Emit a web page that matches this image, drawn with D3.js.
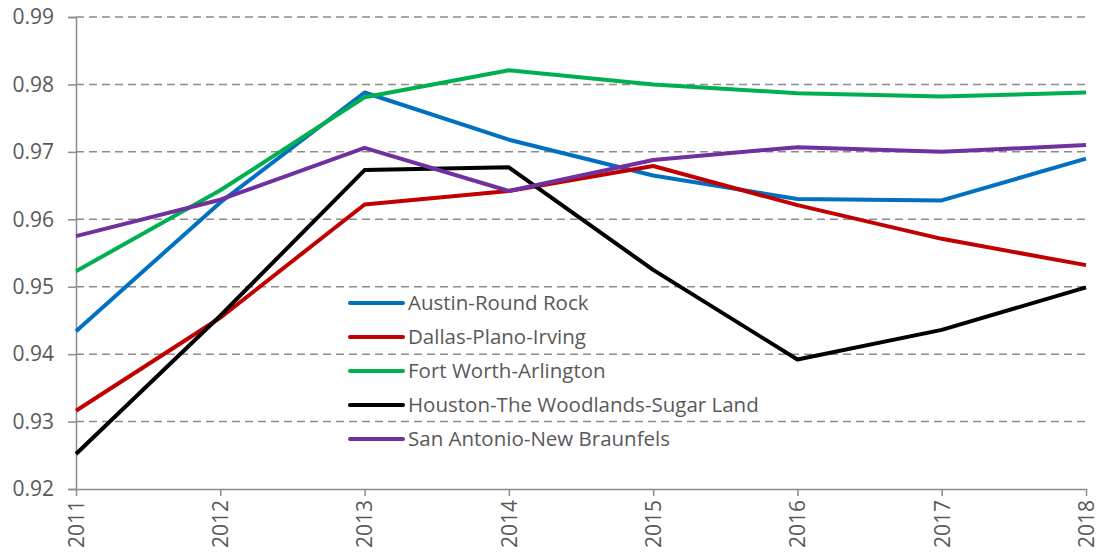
<!DOCTYPE html>
<html lang="en">
<head>
    <meta charset="UTF-8">
    <title>Texas metro lines</title>
    <script src="https://d3js.org/d3.v7.min.js"></script>
    <style>
        body { margin: 0; background: #fff; }
        text { font-family: "Open Sans", sans-serif; fill: #595959; }
    </style>
</head>
<body>
    <div id="chart"></div>

    <script>
        // Data
        const years = ["2011", "2012", "2013", "2014", "2015", "2016", "2017", "2018"];
        const names = ["Austin-Round Rock", "Dallas-Plano-Irving", "Fort Worth-Arlington",
                       "Houston-The Woodlands-Sugar Land", "San Antonio-New Braunfels"];
        const austin    = [0.9434, 0.9625, 0.9788, 0.9718, 0.9665, 0.9630, 0.9628, 0.9690];
        const dallas    = [0.9316, 0.9454, 0.9622, 0.9642, 0.9679, 0.9621, 0.9571, 0.9532];
        const fortWorth = [0.9523, 0.9643, 0.9781, 0.9821, 0.9800, 0.9787, 0.9782, 0.9788];
        const houston   = [0.9252, 0.9457, 0.9673, 0.9677, 0.9525, 0.9392, 0.9436, 0.9499];
        const sanAnton  = [0.9575, 0.9629, 0.9706, 0.9642, 0.9688, 0.9707, 0.9700, 0.9710];
        const yTicks = [0.92, 0.93, 0.94, 0.95, 0.96, 0.97, 0.98, 0.99];
        const colors = ["#0070C0", "#C00000", "#00B050", "#000000", "#7030A0"];

        const series = [austin, dallas, fortWorth, houston, sanAnton];

        const width = 1100, height = 554;
        const plotLeft = 76, plotRight = 1086, plotTop = 17, plotBottom = 489;

        const svg = d3.select("#chart").append("svg")
            .attr("width", width)
            .attr("height", height);

        const x = d3.scalePoint().domain(years).range([plotLeft, plotRight]);
        const y = d3.scaleLinear().domain([0.92, 0.99]).range([plotBottom, plotTop]);

        // dashed gridlines
        svg.append("g")
           .selectAll("line")
           .data(yTicks.slice(1))
           .join("line")
           .attr("x1", plotLeft).attr("x2", plotRight)
           .attr("y1", d => y(d)).attr("y2", d => y(d))
           .attr("stroke", "#8c8c8c")
           .attr("stroke-width", 1.5)
           .attr("stroke-dasharray", "8,5");

        // y axis
        const yAxis = svg.append("g")
            .attr("transform", `translate(${plotLeft},0)`)
            .call(d3.axisLeft(y).tickValues(yTicks).tickFormat(d3.format(".2f")).tickSize(8).tickPadding(14));
        yAxis.select(".domain").attr("stroke", "#8c8c8c").attr("stroke-width", 1.5);
        yAxis.selectAll(".tick line").attr("stroke", "#8c8c8c").attr("stroke-width", 1.5);
        yAxis.selectAll("text").attr("font-size", 21).attr("fill", "#595959")
             .style("font-family", "'Open Sans', sans-serif");

        // x axis
        const xAxis = svg.append("g")
            .attr("transform", `translate(0,${plotBottom})`)
            .call(d3.axisBottom(x).tickSize(7).tickSizeOuter(0));
        xAxis.select(".domain").attr("stroke", "#8c8c8c").attr("stroke-width", 1.5);
        xAxis.selectAll(".tick line").attr("stroke", "#8c8c8c").attr("stroke-width", 1.5);
        xAxis.selectAll("text")
             .attr("font-size", 21).attr("fill", "#595959")
             .style("font-family", "'Open Sans', sans-serif")
             .attr("text-anchor", "end")
             .attr("dy", "0.35em")
             .attr("transform", "translate(0,2) rotate(-90)")
             .attr("x", -9).attr("y", 0);

        // lines
        const line = d3.line()
            .x((d, i) => x(years[i]))
            .y(d => y(d));

        svg.append("g")
           .selectAll("path")
           .data(series)
           .join("path")
           .attr("d", line)
           .attr("fill", "none")
           .attr("stroke", (d, i) => colors[i])
           .attr("stroke-width", 4)
           .attr("stroke-linejoin", "round");

        // legend
        const legend = svg.append("g").attr("transform", "translate(348,303)");
        const item = legend.selectAll("g")
            .data(names)
            .join("g")
            .attr("transform", (d, i) => `translate(0,${i * 34})`);
        item.append("line")
            .attr("x1", 2).attr("x2", 55)
            .attr("stroke", (d, i) => colors[i])
            .attr("stroke-width", 4)
            .attr("stroke-linecap", "round");
        item.append("text")
            .attr("x", 60)
            .attr("dy", "0.35em")
            .attr("font-size", 20.5)
            .text(d => d);
    </script>
</body>
</html>
